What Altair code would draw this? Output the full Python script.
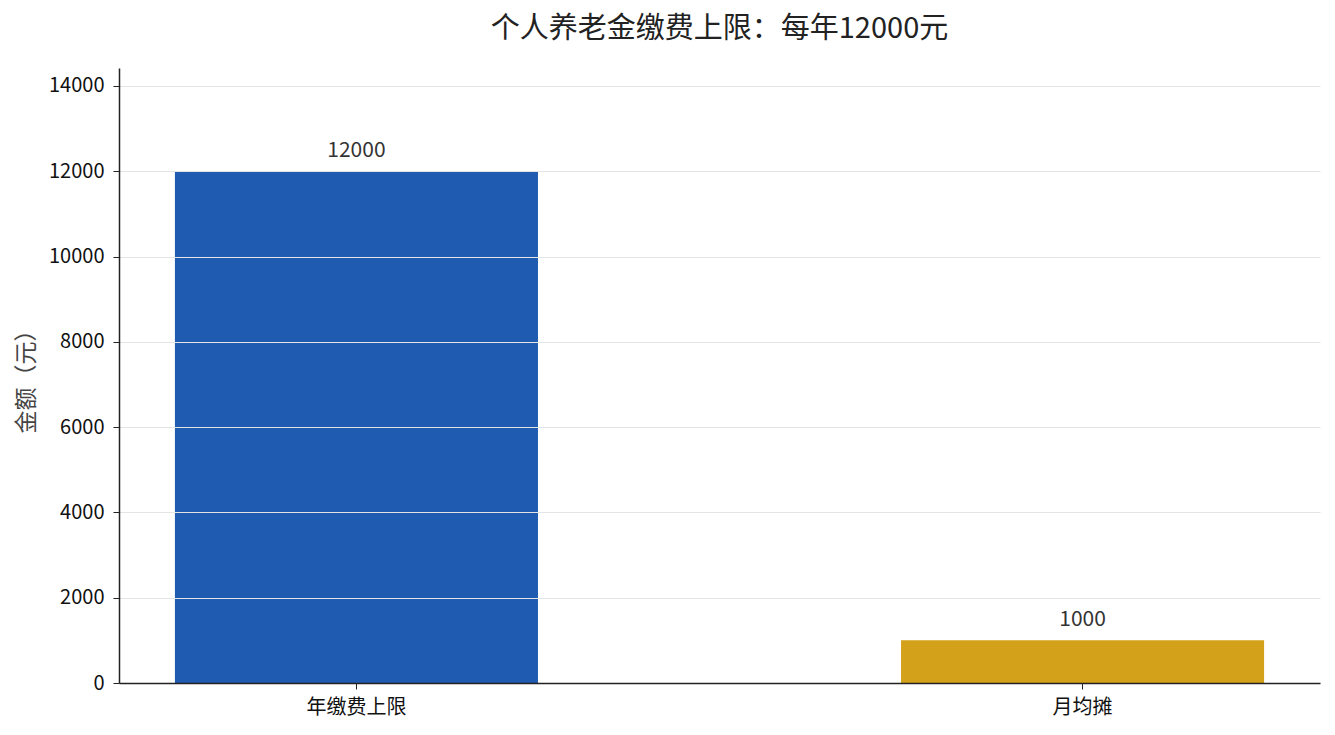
import altair as alt
import pandas as pd

categories = ["年缴费上限", "月均摊"]
values = [12000, 1000]
colors = ["#1f5bb0", "#d4a11a"]
tick_values = [0, 2000, 4000, 6000, 8000, 10000, 12000, 14000]

df = pd.DataFrame({"category": categories, "value": values, "color": colors})

FONT = "Noto Sans CJK SC"

x = alt.X(
    "category:N",
    sort=categories,
    title=None,
    scale=alt.Scale(paddingInner=0.5, paddingOuter=0.077),
    axis=alt.Axis(
        labelAngle=0,
        labelFontSize=20,
        labelColor="#111111",
        labelFont=FONT,
        labelPadding=8,
        tickSize=6,
        tickColor="#222222",
        domainColor="#222222",
        domainWidth=1.5,
        grid=False,
        zindex=2,
    ),
)
y = alt.Y(
    "value:Q",
    title="金额（元）",
    scale=alt.Scale(domain=[0, 14420], nice=False),
    axis=alt.Axis(
        values=tick_values,
        format="d",
        labelFontSize=20,
        labelColor="#111111",
        labelFont=FONT,
        labelPadding=9,
        tickSize=6,
        tickColor="#222222",
        domainColor="#222222",
        domainWidth=1.5,
        grid=True,
        gridColor="#e4e4e4",
        gridWidth=1,
        titleFont=FONT,
        titleFontSize=23,
        titleFontWeight="normal",
        titleColor="#444444",
        titlePadding=10,
        zindex=1,
    ),
)

bars = alt.Chart(df).mark_bar().encode(
    x=x,
    y=y,
    color=alt.Color("color:N", scale=None, legend=None),
)

labels = alt.Chart(df).mark_text(
    baseline="bottom", dy=-10, fontSize=21, font=FONT, color="#333333"
).encode(
    x=alt.X("category:N", sort=categories),
    y=alt.Y("value:Q"),
    text=alt.Text("value:Q", format="d"),
)

chart = (
    alt.layer(bars, labels)
    .properties(
        width=1201,
        height=615,
        background="white",
        autosize=alt.AutoSizeParams(type="none"),
        padding={"left": 111, "top": 60, "right": 5, "bottom": 40},
        title=alt.TitleParams(
            "个人养老金缴费上限：每年12000元",
            font=FONT,
            fontSize=29,
            fontWeight="normal",
            color="#222222",
            anchor="middle",
            offset=24,
        ),
    )
    .configure_view(stroke="transparent", strokeWidth=0)
)

chart.save("out.html", embed_options={"renderer": "svg", "actions": False})
